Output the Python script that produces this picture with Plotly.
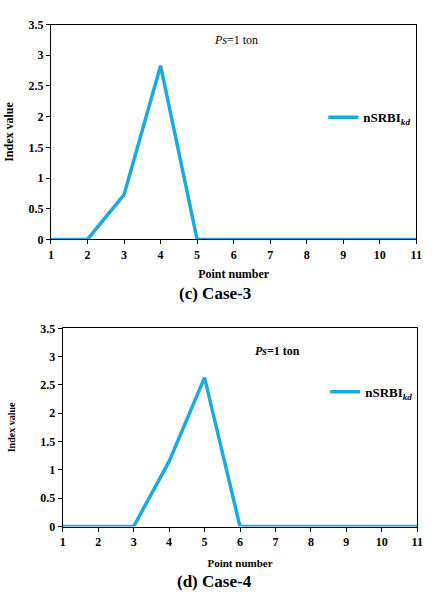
import plotly.graph_objects as go

points = list(range(1, 12))
case3_values = [0, 0, 0.73, 2.83, 0, 0, 0, 0, 0, 0, 0]
case4_values = [0, 0, 0, 1.15, 2.63, 0, 0, 0, 0, 0, 0]
y_ticks = [0, 0.5, 1, 1.5, 2, 2.5, 3, 3.5]
y_tick_text = ["0", "0.5", "1", "1.5", "2", "2.5", "3", "3.5"]
series_name = "<b>nSRBI</b><sub><b><i>kd</i></b></sub>"

W, H = 436, 598
LINE = "#1BA9E1"
FONT = "Liberation Serif, Times New Roman, serif"

fig = go.Figure()
fig.add_trace(go.Scatter(x=points, y=case3_values, mode="lines", name=series_name,
                         line=dict(color=LINE, width=3.5), xaxis="x", yaxis="y", legend="legend"))
fig.add_trace(go.Scatter(x=points, y=case4_values, mode="lines", name=series_name,
                         line=dict(color=LINE, width=3.5), xaxis="x2", yaxis="y2", legend="legend2"))

def px_x(v):
    return v / W

def px_y(v):
    return 1 - v / H

axis_common = dict(showgrid=False, zeroline=False, showline=True, linecolor="black", linewidth=1,
                   mirror=True, ticks="outside", ticklen=4, tickcolor="black",
                   tickfont=dict(family=FONT, size=12, color="black"))

fig.update_layout(
    width=W, height=H, margin=dict(l=0, r=0, t=0, b=0),
    paper_bgcolor="white", plot_bgcolor="white",
    font=dict(family=FONT, color="black"),
    xaxis=dict(domain=[px_x(49), px_x(422)], range=[1, 11], tickvals=points, anchor="y",
               ticktext=[f"<b>{p}</b>" for p in points],
               title=dict(text="<b>Point number</b>", font=dict(family=FONT, size=12), standoff=8),
               **axis_common),
    yaxis=dict(domain=[px_y(238), px_y(18)], range=[0, 3.5], tickvals=y_ticks, ticktext=[f"<b>{t}</b>" for t in y_tick_text],
               anchor="x", title=dict(text="<b>Index value</b>", font=dict(family=FONT, size=12), standoff=12), **axis_common),
    xaxis2=dict(domain=[px_x(61), px_x(423)], range=[1, 11], tickvals=points, anchor="y2",
                ticktext=[f"<b>{p}</b>" for p in points],
                title=dict(text="<b>Point number</b>", font=dict(family=FONT, size=11), standoff=11),
                **axis_common),
    yaxis2=dict(domain=[px_y(532), px_y(329)], range=[0, 3.5], tickvals=y_ticks, ticktext=[f"<b>{t}</b>" for t in y_tick_text],
                anchor="x2", title=dict(text="<b>Index value</b>", font=dict(family=FONT, size=10), standoff=22), **axis_common),
    legend=dict(x=px_x(327), y=px_y(113), xanchor="left", yanchor="middle", bgcolor="rgba(0,0,0,0)",
                font=dict(family=FONT, size=13, color="black"), itemwidth=30),
    legend2=dict(x=px_x(329), y=px_y(394), xanchor="left", yanchor="middle", bgcolor="rgba(0,0,0,0)",
                 font=dict(family=FONT, size=13, color="black"), itemwidth=30),
    showlegend=True,
)

def note(x, y, text, size):
    fig.add_annotation(x=px_x(x), y=px_y(y), xref="paper", yref="paper", showarrow=False,
                       xanchor="center", yanchor="middle", text=text,
                       font=dict(family=FONT, size=size, color="black"))

note(238, 34, "<i>Ps</i>=1 ton", 12)
note(280, 352, "<b><i>Ps</i>=1 ton</b>", 12)
note(216, 293, "<b>(c) Case-3</b>", 17)
note(216, 588, "<b>(d) Case-4</b>", 17)

fig.write_html("out.html")
